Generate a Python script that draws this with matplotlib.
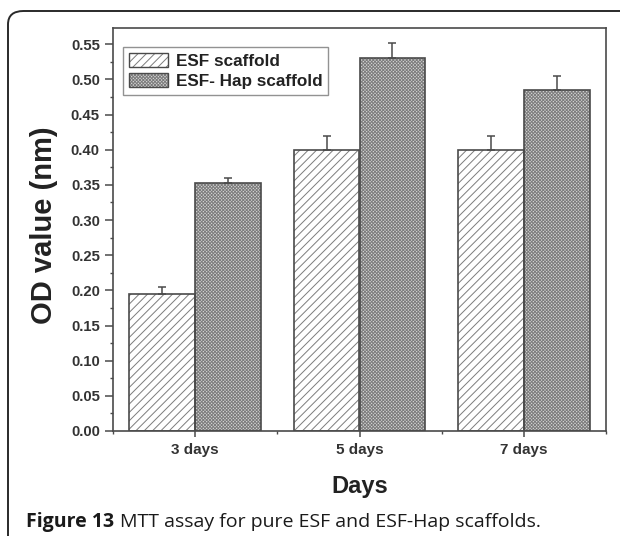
import matplotlib
matplotlib.use("Agg")
import matplotlib.pyplot as plt
import numpy as np
from matplotlib.patches import FancyBboxPatch, Patch
from matplotlib.ticker import MultipleLocator

categories = ["3 days", "5 days", "7 days"]
esf_values = [0.195, 0.399, 0.400]
esf_errors = [0.010, 0.020, 0.020]
hap_values = [0.352, 0.531, 0.485]
hap_errors = [0.008, 0.020, 0.020]
series_names = ["ESF scaffold", "ESF- Hap scaffold"]
yticks = [0.00, 0.05, 0.10, 0.15, 0.20, 0.25, 0.30, 0.35, 0.40, 0.45, 0.50, 0.55]

plt.rcParams['font.family'] = ['Liberation Sans', 'DejaVu Sans']
plt.rcParams['hatch.linewidth'] = 0.7

W, H = 620, 536
fig = plt.figure(figsize=(W / 100, H / 100), dpi=100)

# outer rounded frame (cropped at right/bottom)
frame = FancyBboxPatch((8 / W, -0.1), 1.2, 1 - 11 / H + 0.1,
                       boxstyle="round,pad=0,rounding_size=0.025",
                       transform=fig.transFigure, fill=False,
                       edgecolor="#2a2a2a", linewidth=1.4, clip_on=False)
fig.patches.append(frame)

ax = fig.add_axes([113 / W, 1 - 431 / H, (606 - 113) / W, (431 - 28) / H])
x = np.arange(1, len(categories) + 1)
bw = 0.4
edge = "#4a4a4a"
esf_hatch = "////"
esf_hcol = "#7c7c7c"
hap_hatch = "xxxxxxxxxx"
hap_face = "#d6d6d6"
hap_hcol = "#7c7c7c"

ax.bar(x - bw / 2, esf_values, bw, color="white", edgecolor=esf_hcol,
       hatch=esf_hatch, linewidth=0, zorder=2)
ax.bar(x - bw / 2, esf_values, bw, fill=False, edgecolor=edge, linewidth=1.2,
       zorder=3)
ax.bar(x + bw / 2, hap_values, bw, color=hap_face, edgecolor=hap_hcol,
       hatch=hap_hatch, linewidth=0, zorder=2)
ax.bar(x + bw / 2, hap_values, bw, fill=False, edgecolor=edge, linewidth=1.2,
       zorder=3)

ax.errorbar(x - bw / 2, esf_values, yerr=[np.zeros(3), esf_errors], fmt="none",
            ecolor=edge, elinewidth=1.1, capsize=3, capthick=1.1, zorder=4)
ax.errorbar(x + bw / 2, hap_values, yerr=[np.zeros(3), hap_errors], fmt="none",
            ecolor=edge, elinewidth=1.1, capsize=3, capthick=1.1, zorder=4)

ax.set_xlim(0.5, 3.5)
ax.set_ylim(0, 0.573)
ax.set_xticks(x)
ax.set_xticklabels(categories, fontsize=11, fontweight="bold", color="#333333")
ax.set_xticks([0.5, 1.5, 2.5, 3.5], minor=True)
ax.set_yticks(yticks)
ax.set_yticklabels([f"{v:.2f}" for v in yticks], fontsize=10.7, fontweight="bold",
                   color="#333333")
ax.yaxis.set_minor_locator(MultipleLocator(0.025))
ax.tick_params(axis="y", which="major", direction="out", length=5.5, width=1.1,
               color=edge, pad=4)
ax.tick_params(axis="x", which="major", direction="out", length=4.5, width=1.1,
               color=edge, pad=4)
ax.tick_params(axis="both", which="minor", direction="out", length=2.5, width=1.0,
               color=edge)
for s in ax.spines.values():
    s.set_color(edge)
    s.set_linewidth(1.2)

ax.set_ylabel("OD value (nm)", fontsize=21, fontweight="bold", color="#222222",
              va="center")
ax.yaxis.set_label_coords((44 - 113) / 493, (431 - 225) / 403)
ax.set_xlabel("Days", fontsize=17, fontweight="bold", color="#222222", va="center")
ax.xaxis.set_label_coords(0.5, (431 - 487) / 403)

h1 = Patch(facecolor="white", edgecolor=esf_hcol, hatch=esf_hatch, linewidth=0)
h1b = Patch(fill=False, edgecolor=edge, linewidth=1.0)
h2 = Patch(facecolor=hap_face, edgecolor=hap_hcol, hatch=hap_hatch, linewidth=0)
h2b = Patch(fill=False, edgecolor=edge, linewidth=1.0)
leg = ax.legend([(h1, h1b), (h2, h2b)], series_names, loc="upper left",
                bbox_to_anchor=(0.020, 0.953), frameon=True, fancybox=False,
                edgecolor="#777777", handlelength=2.3, handleheight=0.9,
                borderpad=0.35, labelspacing=0.25, handletextpad=0.45,
                borderaxespad=0.0,
                prop={"weight": "bold", "size": 12.3})
leg.get_frame().set_linewidth(1.0)
for t in leg.get_texts():
    t.set_color("#222222")

cap_font = ["Open Sans", "DejaVu Sans"]
t1 = fig.text(26 / W, 1 - 522 / H, "Figure 13", fontsize=14, fontweight="bold",
              family=cap_font, va="center", ha="left", color="#1a1a1a")
fig.canvas.draw()
bb = t1.get_window_extent()
fig.text((bb.x1 + 6) / W, 1 - 522 / H, "MTT assay for pure ESF and ESF-Hap scaffolds.",
         fontsize=14, family=cap_font, va="center", ha="left", color="#1a1a1a")

fig.savefig("out.png", dpi=100)
